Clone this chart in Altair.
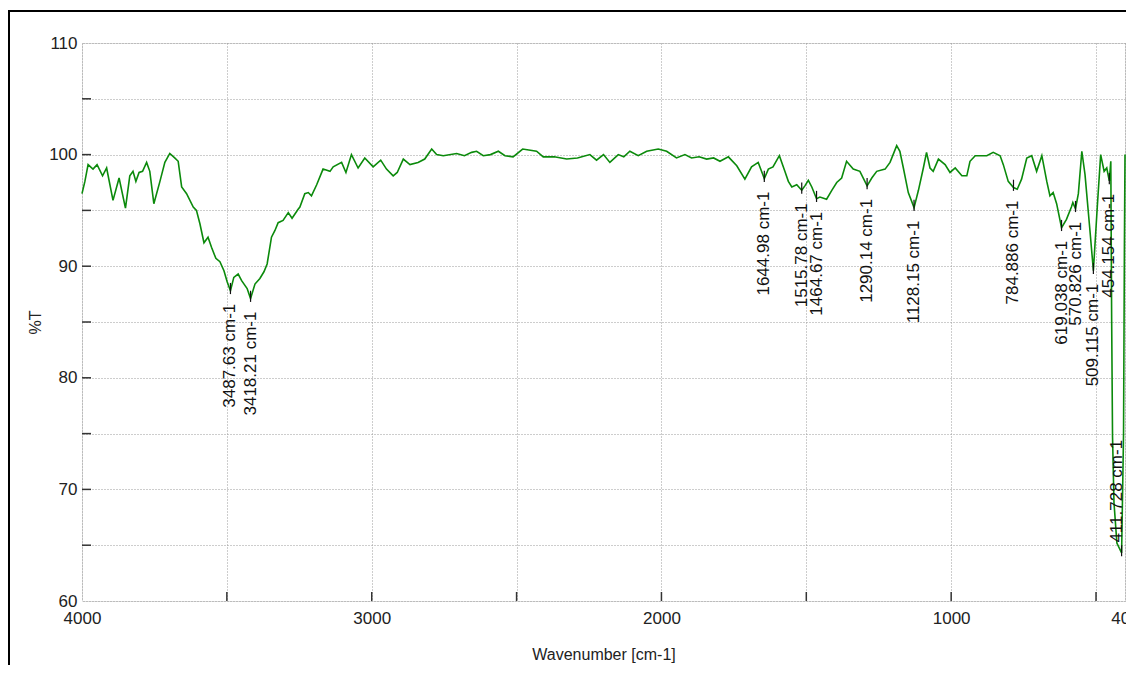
import altair as alt
import pandas as pd

# ---- spectrum values ----
wavenumber = [
    4000, 3990, 3979, 3962, 3948, 3929, 3915, 3893, 3872, 3850, 3835, 3824, 3814, 3803, 3791,
    3777, 3766, 3752, 3731, 3714, 3697, 3680, 3668, 3656, 3639, 3616, 3605, 3593, 3579, 3565,
    3553, 3538, 3524, 3510, 3499, 3487.63, 3476, 3461, 3449, 3430, 3418.21, 3403, 3386, 3372,
    3361, 3346, 3334, 3323, 3306, 3288, 3275, 3254, 3248, 3231, 3219, 3208, 3190, 3168, 3144,
    3133, 3104, 3089, 3070, 3047, 3024, 2995, 2969, 2949, 2926, 2912, 2891, 2868, 2840, 2817,
    2793, 2776, 2753, 2707, 2680, 2655, 2638, 2615, 2590, 2563, 2540, 2512, 2479, 2431, 2408,
    2370, 2327, 2290, 2247, 2224, 2200, 2178, 2149, 2130, 2109, 2080, 2051, 2011, 1982, 1948,
    1919, 1896, 1870, 1844, 1820, 1798, 1769, 1740, 1712, 1689, 1666, 1644.98, 1631, 1615,
    1593, 1574, 1562, 1550, 1533, 1515.78, 1505, 1493, 1481, 1464.67, 1453, 1430, 1412, 1395,
    1378, 1361, 1338, 1315, 1290.14, 1274, 1257, 1228, 1211, 1188, 1177, 1165, 1148, 1128.15,
    1113, 1096, 1085, 1073, 1062, 1044, 1021, 1004, 986, 963, 946, 935, 917, 877, 855, 831,
    820, 803, 784.886, 772, 757, 739, 722, 705, 687, 670, 659, 648, 636, 619.038, 602, 585,
    580, 570.826, 561, 549, 538, 521, 509.115, 495, 484, 472, 463, 454.154, 449, 446, 443,
    438, 428, 411.728, 405, 402, 400,
]
transmittance = [
    96.5, 97.6, 99.1, 98.7, 99.1, 98.1, 98.8, 95.9, 97.9, 95.2, 98.1, 98.5, 97.6, 98.4, 98.5,
    99.3, 98.5, 95.6, 97.6, 99.3, 100.1, 99.7, 99.4, 97.1, 96.5, 95.3, 95.0, 93.8, 92.1, 92.6,
    91.7, 90.7, 90.4, 89.6, 88.6, 87.8, 89.0, 89.3, 88.7, 88.0, 87.1, 88.4, 88.9, 89.5,
    90.2, 92.6, 93.2, 93.9, 94.1, 94.8, 94.3, 95.1, 95.3, 96.5, 96.6, 96.3, 97.3, 98.7, 98.5,
    98.9, 99.3, 98.4, 100.0, 98.8, 99.7, 98.9, 99.5, 98.7, 98.1, 98.4, 99.6, 99.1, 99.3, 99.6,
    100.5, 100.0, 99.9, 100.1, 99.9, 100.2, 100.3, 99.9, 100.0, 100.3, 99.9, 99.8, 100.5, 100.3, 99.8,
    99.8, 99.6, 99.7, 100.0, 99.5, 100.0, 99.3, 100.0, 99.8, 100.3, 99.9, 100.3, 100.5, 100.3, 99.7,
    100.0, 99.7, 99.8, 99.6, 99.7, 99.4, 99.8, 99.0, 97.8, 98.9, 99.3, 97.85, 98.7, 98.9,
    99.9, 98.5, 97.6, 97.1, 97.3, 96.8, 97.2, 97.7, 97.1, 96.05, 96.2, 96.0, 96.8, 97.5,
    97.9, 99.4, 98.7, 98.5, 97.2, 97.9, 98.5, 98.7, 99.3, 100.8, 100.3, 98.8, 96.6, 95.25,
    96.8, 98.8, 100.2, 98.8, 98.5, 99.6, 99.1, 98.4, 98.8, 98.1, 98.1, 99.4, 99.9, 99.9, 100.2, 99.9,
    99.1, 97.6, 97.05, 96.9, 97.8, 99.7, 99.9, 98.5, 99.9, 97.6, 96.3, 96.6, 95.6, 93.45, 94.2, 95.3,
    95.7, 95.15, 96.5, 100.3, 98.2, 93.2, 89.6, 95.6, 100.0, 98.5, 98.8, 97.65, 99.4, 85.0, 74.7,
    68.8, 65.2, 64.3, 75.0, 92.0, 100.0,
]

# ---- peak annotations ----
peak_wn = [3487.63, 3418.21, 1644.98, 1515.78, 1464.67, 1290.14, 1128.15,
           784.886, 619.038, 570.826, 509.115, 454.154, 411.728]
peak_t = [87.8, 87.1, 97.85, 96.8, 96.05, 97.2, 95.25, 97.05, 93.45, 95.15, 89.6, 97.65, 64.3]
label_t = [87.8, 87.1, 97.85, 96.8, 96.05, 97.2, 95.25, 97.05, 93.45, 95.15, 89.6, 97.65, 75.6]
peak_labels = ["3487.63 cm-1", "3418.21 cm-1", "1644.98 cm-1", "1515.78 cm-1",
               "1464.67 cm-1", "1290.14 cm-1", "1128.15 cm-1", "784.886 cm-1",
               "619.038 cm-1", "570.826 cm-1", "509.115 cm-1", "454.154 cm-1",
               "411.728 cm-1"]

# ---- axis ticks ----
x_ticks = [4000, 3500, 3000, 2500, 2000, 1500, 1000, 500, 400]
x_inner_ticks = [3500, 3000, 2500, 2000, 1500, 1000, 500]
y_ticks = [60, 65, 70, 75, 80, 85, 90, 95, 100, 105, 110]
y_inner_ticks = [65, 70, 75, 80, 85, 90, 95, 100, 105]

W, H = 1043, 558
FONT = "Liberation Sans, Arial, sans-serif"

spec = pd.DataFrame({"wn": wavenumber, "T": transmittance})
peaks = pd.DataFrame({"wn": peak_wn, "T": peak_t, "LT": label_t, "label": peak_labels})
main_peaks = peaks.iloc[:-1]
last_peak = peaks.iloc[-1:]

xscale = alt.Scale(domain=[400, 4000], reverse=True, nice=False, zero=False)
yscale = alt.Scale(domain=[60, 110], nice=False, zero=False)

xaxis = alt.Axis(values=x_ticks, grid=True, gridDash=[1, 2], gridColor="#9a9a9a",
                 gridWidth=1, ticks=False, domain=False, format="d",
                 labelExpr="(datum.value % 1000 == 0 || datum.value == 400) ? datum.label : ''",
                 labelFont=FONT, labelFontSize=17, labelColor="#222", labelPadding=9,
                 labelFlush=False, labelOverlap=False,
                 title="Wavenumber [cm-1]", titleFont=FONT, titleFontSize=16,
                 titleFontWeight="normal", titleColor="#222", titlePadding=20)
yaxis = alt.Axis(values=y_ticks, grid=True, gridDash=[1, 2], gridColor="#9a9a9a",
                 gridWidth=1, ticks=False, domain=False, format="d",
                 labelExpr="datum.value % 10 == 0 ? datum.label : ''",
                 labelFont=FONT, labelFontSize=17, labelColor="#222", labelPadding=5,
                 labelOverlap=False,
                 title="%T", titleFont=FONT, titleFontSize=16, titleFontWeight="normal",
                 titleColor="#222", titlePadding=5)

line = alt.Chart(spec).mark_line(color="#0b8a0b", strokeWidth=1.6).encode(
    x=alt.X("wn:Q", scale=xscale, axis=xaxis),
    y=alt.Y("T:Q", scale=yscale, axis=yaxis),
    order="wn:Q",
)

xt = alt.Chart(pd.DataFrame({"v": x_inner_ticks})).mark_rule(color="#333", strokeWidth=1.5).encode(
    x=alt.X("v:Q", scale=xscale),
    y=alt.value(H), y2=alt.value(H - 9),
)
yt = alt.Chart(pd.DataFrame({"v": y_inner_ticks})).mark_rule(color="#333", strokeWidth=1.5).encode(
    y=alt.Y("v:Q", scale=yscale),
    x=alt.value(0), x2=alt.value(9),
)

peak_ticks = alt.Chart(peaks).transform_calculate(
    top="datum.T + 0.7", bot="datum.T - 0.3"
).mark_rule(color="#111", strokeWidth=1.2).encode(
    x=alt.X("wn:Q", scale=xscale),
    y=alt.Y("top:Q", scale=yscale),
    y2="bot:Q",
)

peak_text = alt.Chart(main_peaks).mark_text(
    angle=270, align="right", baseline="middle", dx=-13,
    font=FONT, fontSize=17, color="#111"
).encode(
    x=alt.X("wn:Q", scale=xscale),
    y=alt.Y("LT:Q", scale=yscale),
    text="label:N",
)

last_text = alt.Chart(last_peak).mark_text(
    angle=270, align="right", baseline="middle", dx=-13, dy=-5,
    font=FONT, fontSize=17, color="#111"
).encode(
    x=alt.X("wn:Q", scale=xscale),
    y=alt.Y("LT:Q", scale=yscale),
    text="label:N",
)

frame = alt.Chart(alt.Data(values=[{}])).mark_rect(
    fill="transparent", stroke="black", strokeWidth=2
).encode(
    x=alt.value(-73), y=alt.value(-32), x2=alt.value(W + 60), y2=alt.value(H + 120),
)

chart = alt.layer(frame, line, xt, yt, peak_ticks, peak_text, last_text).properties(
    width=W, height=H,
    padding={"left": 74, "top": 35, "right": 1, "bottom": 64},
    autosize=alt.AutoSizeParams(type="none"),
).configure_view(stroke="#333", strokeWidth=1.5).configure(background="white")

chart.save("out.html", embed_options={"renderer": "svg", "actions": False})
